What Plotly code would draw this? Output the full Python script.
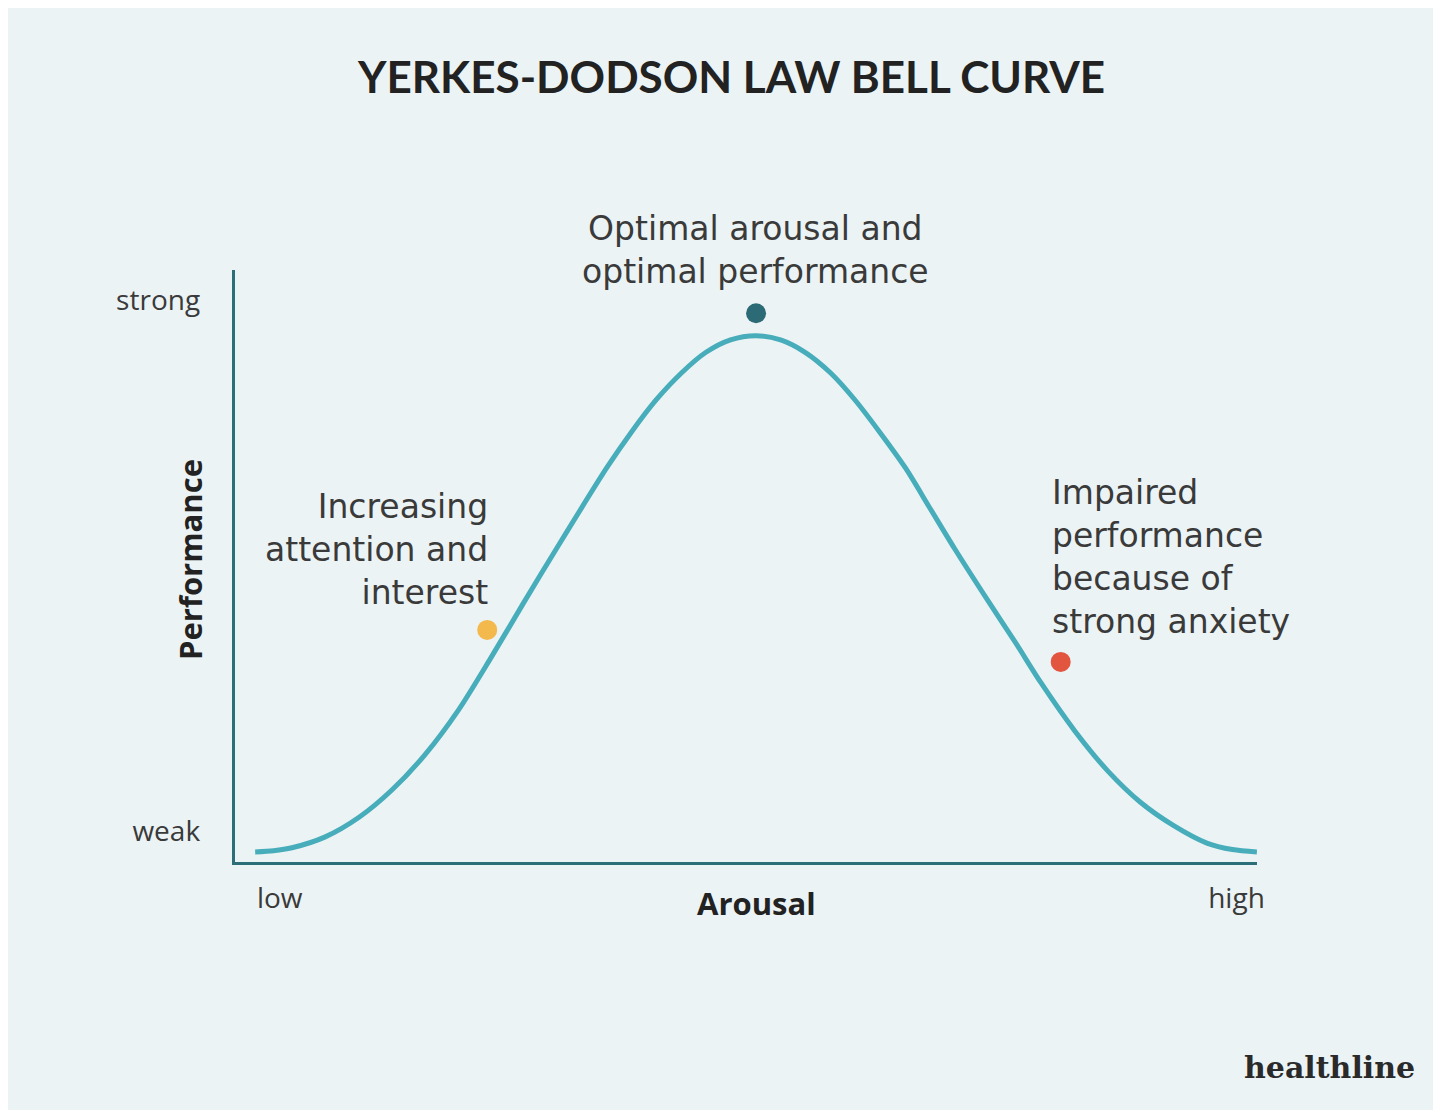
import plotly.graph_objects as go

# Curve (arousal 0-100, performance 0-100)
arousal = [2.0, 3.8, 5.6, 8.8, 12.2, 15.4, 18.6, 21.9, 25.1, 28.2, 31.5, 36.4, 38.8, 41.2, 43.7, 46.1, 48.5,
           51.0,
           53.4, 55.8, 58.3, 60.7, 63.1, 65.6, 68.0, 70.4, 73.7, 76.4, 78.9, 82.2, 85.4, 88.6, 91.9, 95.1, 97.6, 100.0]
performance = [1.7, 1.9, 2.4, 4.2, 7.6, 12.2, 18.1, 25.7, 34.6, 43.6, 53.0, 66.6, 72.6, 78.0, 82.6, 86.1, 88.2,
               88.9,
               88.2, 86.1, 82.6, 78.0, 72.6, 66.6, 59.8, 53.0, 44.1, 37.0, 30.2, 22.1, 15.4, 10.1, 6.1, 3.2, 2.1, 1.7]

# Marker points
dot_x = [24.7, 51.0, 80.8]
dot_y = [39.2, 92.7, 33.8]
dot_colors = ["#f3b94d", "#2c6b75", "#e2553f"]

# Axis labels
y_tick_vals = [94.9, 5.2]
y_tick_text = ["strong", "weak"]
x_tick_vals = [4.4, 98.0]
x_tick_text = ["low", "high"]

title_text = "YERKES-DODSON LAW BELL CURVE"
label_optimal = "Optimal arousal and<br>optimal performance"
label_increasing = "Increasing<br>attention and<br>interest"
label_impaired = "Impaired<br>performance<br>because of<br>strong anxiety"

OFFX, OFFY = 4, 8  # page offset of the figure in the browser
W, H = 1425, 1102
BG = "#ebf3f5"
TXT = "#3a3a3a"
FONT = "Open Sans"
BODY_FONT = "DejaVu Sans"
BODY_SIZE = 33

def px(x):
    return (x - OFFX) / W

def py(y):
    return 1 - (y - OFFY) / H

fig = go.Figure()
fig.add_trace(go.Scatter(x=arousal, y=performance, mode="lines",
                         line=dict(color="#47adba", width=5, shape="spline", smoothing=0.8),
                         hoverinfo="skip", showlegend=False, cliponaxis=False))
fig.add_trace(go.Scatter(x=dot_x, y=dot_y, mode="markers",
                         marker=dict(size=20, color=dot_colors, line=dict(width=0)),
                         hoverinfo="skip", showlegend=False, cliponaxis=False))

body = dict(family=BODY_FONT, size=BODY_SIZE, color=TXT)
annotations = [
    dict(text="<b>" + title_text + "</b>", x=px(731), y=py(76), xref="paper", yref="paper",
         showarrow=False, font=dict(family="Lato", size=44, color="#222222"), xanchor="center", yanchor="middle"),
    dict(text=label_optimal, x=px(756), y=py(250), xref="paper", yref="paper", showarrow=False,
         font=body, xanchor="center", yanchor="middle", align="center"),
    dict(text=label_increasing, x=px(489), y=py(549), xref="paper", yref="paper", showarrow=False,
         font=body, xanchor="right", yanchor="middle", align="right"),
    dict(text=label_impaired, x=px(1052), y=py(557), xref="paper", yref="paper", showarrow=False,
         font=body, xanchor="left", yanchor="middle", align="left"),
    dict(text="<b>Arousal</b>", x=px(757), y=py(903), xref="paper", yref="paper", showarrow=False,
         font=dict(family=FONT, size=31, color="#222222"), xanchor="center", yanchor="middle"),
    dict(text="<b>Performance</b>", x=px(187), y=py(559), xref="paper", yref="paper", showarrow=False,
         textangle=-90, font=dict(family=FONT, size=31, color="#222222"), xanchor="center", yanchor="middle"),
    dict(text="<b>healthline</b>", x=px(1421), y=py(1067), xref="paper", yref="paper", showarrow=False,
         font=dict(family="DejaVu Serif", size=30, color="#2a2a2a"), xanchor="right", yanchor="middle"),
]

fig.update_layout(
    width=W, height=H,
    margin=dict(l=0, r=0, t=0, b=0),
    paper_bgcolor=BG, plot_bgcolor=BG,
    annotations=annotations,
    xaxis=dict(domain=[px(232), px(1260)], range=[0, 100], showgrid=False, zeroline=False,
               showline=True, linecolor="#2d6f78", linewidth=3,
               tickvals=x_tick_vals, ticktext=x_tick_text, ticks="",
               tickfont=dict(family=FONT, size=28, color=TXT), ticklabelstandoff=9),
    yaxis=dict(domain=[py(862), py(270)], range=[0, 100], showgrid=False, zeroline=False,
               showline=True, linecolor="#2d6f78", linewidth=3,
               tickvals=y_tick_vals, ticktext=y_tick_text, ticks="",
               tickfont=dict(family=FONT, size=28, color=TXT), ticklabelstandoff=26),
)

fig.write_html("out.html")
